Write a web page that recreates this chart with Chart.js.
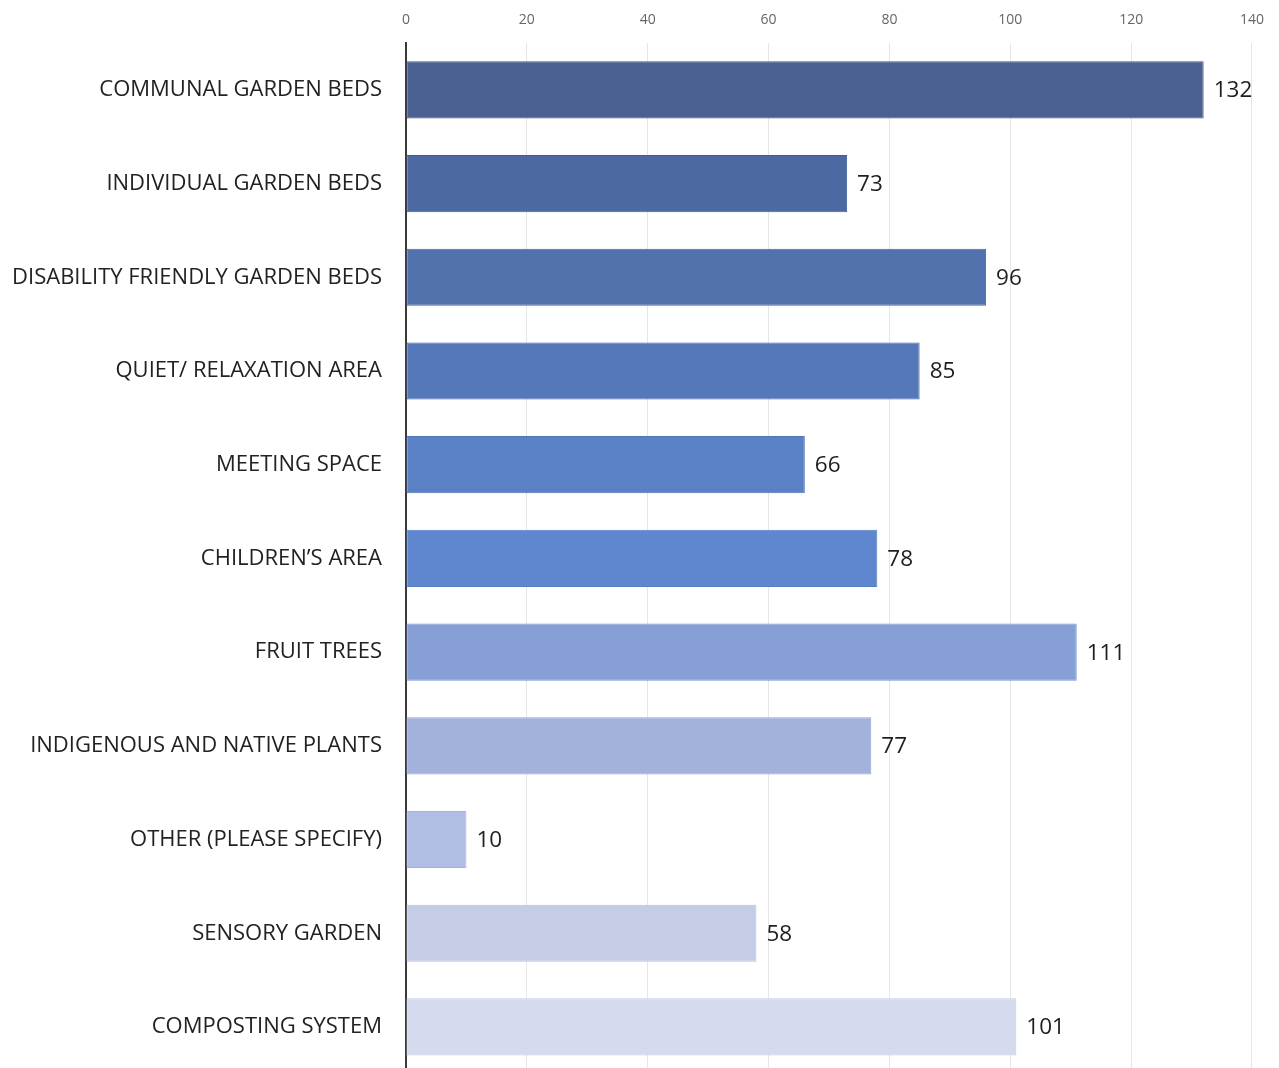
<!DOCTYPE html>
<html>
<head>
<meta charset="utf-8">
<script src="https://cdn.jsdelivr.net/npm/chart.js@4/dist/chart.umd.min.js"></script>
<style>
  html, body { margin: 0; padding: 0; background: #ffffff; overflow: hidden; }
  canvas { display: block; }
</style>
</head>
<body>
<canvas id="chart" width="1279" height="1111"></canvas>
<script>
// Garden features and the number of responses for each
const categories = [
  'COMMUNAL GARDEN BEDS',
  'INDIVIDUAL GARDEN BEDS',
  'DISABILITY FRIENDLY GARDEN BEDS',
  'QUIET/ RELAXATION AREA',
  'MEETING SPACE',
  'CHILDREN\u2019S AREA',
  'FRUIT TREES',
  'INDIGENOUS AND NATIVE PLANTS',
  'OTHER (PLEASE SPECIFY)',
  'SENSORY GARDEN',
  'COMPOSTING SYSTEM'
];
const responses = [132, 73, 96, 85, 66, 78, 111, 77, 10, 58, 101];
const xTicks = [0, 20, 40, 60, 80, 100, 120, 140];

// One shade per bar, dark navy at the top fading to pale lavender
const barFills = [
  '#4a6090', '#4d69a2', '#5272ae', '#5578b9', '#5a80c5', '#5e87cf',
  '#86a0d6', '#a2b2dc', '#b1bee3', '#c5cce6', '#d6daee'
];
const barEdges = [
  '#3f5482', '#425d94', '#4866a2', '#4b6dad', '#5075b9', '#5580c6',
  '#7a93cd', '#94a6d5', '#a3b2dc', '#b8c1e0', '#c6cce6'
];

// Writes each bar's value just past its end
const valueLabels = {
  id: 'valueLabels',
  afterDatasetsDraw(chart) {
    const ctx = chart.ctx;
    const meta = chart.getDatasetMeta(0);
    ctx.save();
    ctx.font = '22.5px "Open Sans", sans-serif';
    ctx.fillStyle = '#1e1e1e';
    ctx.textAlign = 'left';
    ctx.textBaseline = 'middle';
    meta.data.forEach((bar, i) => {
      ctx.fillText(String(chart.data.datasets[0].data[i]), bar.x + 10, bar.y + 1);
    });
    ctx.restore();
  }
};

new Chart(document.getElementById('chart'), {
  type: 'bar',
  data: {
    labels: categories,
    datasets: [{
      data: responses,
      backgroundColor: barFills,
      borderColor: barEdges,
      borderWidth: 1,
      borderSkipped: false,
      barPercentage: 0.61,
      categoryPercentage: 1.0
    }]
  },
  options: {
    indexAxis: 'y',
    responsive: false,
    animation: false,
    layout: { padding: { left: 0, right: 5, top: 0, bottom: 0 } },
    plugins: {
      legend: { display: false },
      tooltip: { enabled: false }
    },
    scales: {
      x: {
        position: 'top',
        min: 0,
        max: 140,
        afterBuildTicks(scale) {
          scale.ticks = xTicks.map(v => ({ value: v }));
        },
        afterFit(scale) { scale.height = 43; },
        grid: { color: '#e6e6e6', lineWidth: 1, drawTicks: false },
        border: { display: false },
        ticks: {
          padding: 15,
          color: '#666666',
          font: { family: '"Open Sans", sans-serif', size: 14 }
        }
      },
      y: {
        afterFit(scale) { scale.width = 406; },
        grid: { display: false, drawTicks: false },
        border: { display: true, color: '#3a3a3a', width: 2 },
        ticks: {
          padding: 24,
          color: '#222222',
          font: { family: '"Open Sans", sans-serif', size: 22 }
        }
      }
    }
  },
  plugins: [valueLabels]
});
</script>
</body>
</html>
